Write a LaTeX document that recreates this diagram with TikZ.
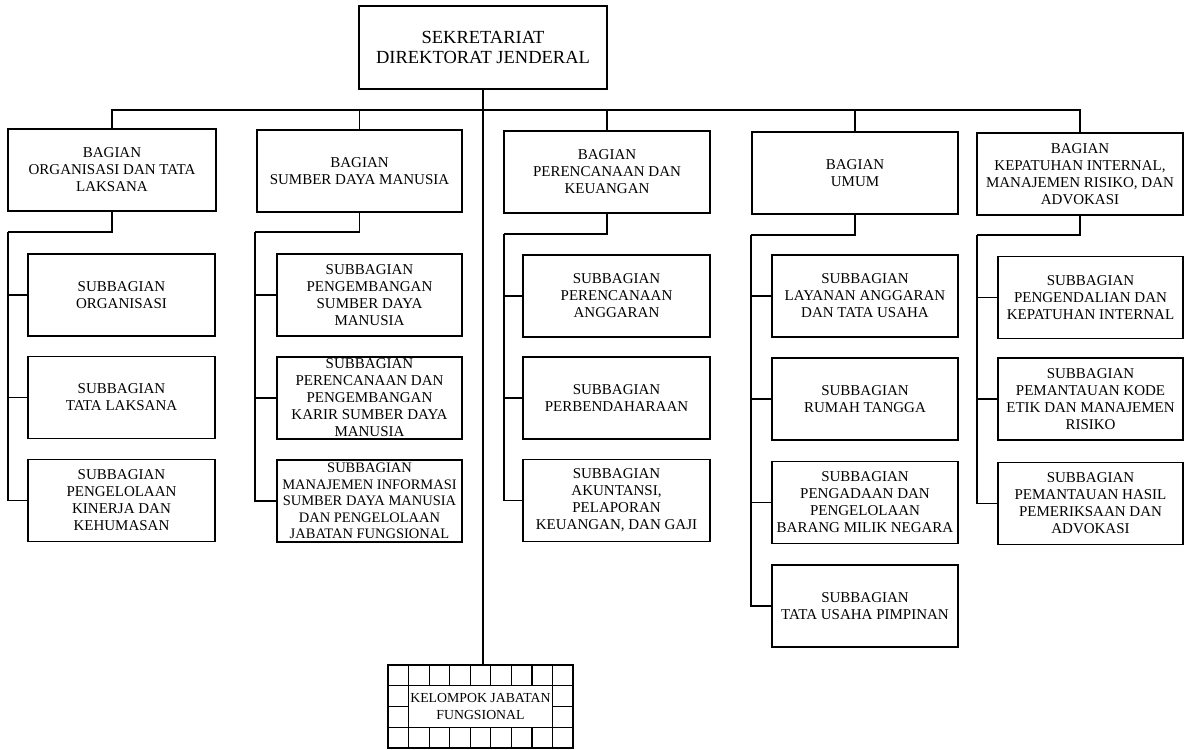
\documentclass[tikz,border=0pt]{standalone}
\usepackage{fontspec}
\setmainfont{Liberation Serif}
\begin{document}
\begin{tikzpicture}[x={(1pt,0)}, y={(0,-1pt)},
  line width=1.2pt,
  orgbox/.style={draw, line width=1.2pt, inner sep=0pt, align=center,
    minimum height=82pt, font=\fontsize{15}{17}\selectfont},
  topbox/.style={orgbox, font=\fontsize{18.5}{20.5}\selectfont},
  jfbox/.style={draw, line width=1.2pt, inner sep=0pt, align=center,
    font=\fontsize{13.8}{17}\selectfont}]
\useasboundingbox (0,0) rectangle (1185,749);

% --- head office ---
\node[topbox, minimum width=248pt, minimum height=83pt] (sek) at (483,47.5)
  {SEKRETARIAT\\DIREKTORAT JENDERAL};

% --- divisions ---
\node[orgbox, minimum width=208pt] (b1) at (112,170)
  {BAGIAN\\ORGANISASI DAN TATA\\LAKSANA};
\node[orgbox, minimum width=205pt] (b2) at (359.5,171)
  {BAGIAN\\SUMBER DAYA MANUSIA};
\node[orgbox, minimum width=206pt] (b3) at (607,172)
  {BAGIAN\\PERENCANAAN DAN\\KEUANGAN};
\node[orgbox, minimum width=206pt] (b4) at (855,173)
  {BAGIAN\\UMUM};
\node[orgbox, minimum width=206pt] (b5) at (1080,174)
  {BAGIAN\\KEPATUHAN INTERNAL,\\MANAJEMEN RISIKO, DAN\\ADVOKASI};

% --- subdivisions, column 1 ---
\node[orgbox, minimum width=187pt] (s11) at (121.5,295)
  {SUBBAGIAN\\ORGANISASI};
\node[orgbox, minimum width=187pt] (s12) at (121.5,397.5)
  {SUBBAGIAN\\TATA LAKSANA};
\node[orgbox, minimum width=187pt] (s13) at (121.5,500.5)
  {SUBBAGIAN\\PENGELOLAAN\\KINERJA DAN\\KEHUMASAN};

% --- subdivisions, column 2 ---
\node[orgbox, minimum width=185pt] (s21) at (369.5,295)
  {SUBBAGIAN\\PENGEMBANGAN\\SUMBER DAYA\\MANUSIA};
\node[orgbox, minimum width=185pt] (s22) at (369.5,398)
  {SUBBAGIAN\\PERENCANAAN DAN\\PENGEMBANGAN\\KARIR SUMBER DAYA\\MANUSIA};
\node[orgbox, minimum width=185pt, font=\fontsize{14.5}{16.5}\selectfont] (s23) at (369.5,501)
  {SUBBAGIAN\\MANAJEMEN INFORMASI\\SUMBER DAYA MANUSIA\\DAN PENGELOLAAN\\JABATAN FUNGSIONAL};

% --- subdivisions, column 3 ---
\node[orgbox, minimum width=187pt] (s31) at (616.5,296)
  {SUBBAGIAN\\PERENCANAAN\\ANGGARAN};
\node[orgbox, minimum width=187pt] (s32) at (616.5,398)
  {SUBBAGIAN\\PERBENDAHARAAN};
\node[orgbox, minimum width=187pt] (s33) at (616.5,500.5)
  {SUBBAGIAN\\AKUNTANSI,\\PELAPORAN\\KEUANGAN, DAN GAJI};

% --- subdivisions, column 4 ---
\node[orgbox, minimum width=186pt] (s41) at (865,296)
  {SUBBAGIAN\\LAYANAN ANGGARAN\\DAN TATA USAHA};
\node[orgbox, minimum width=186pt] (s42) at (865,399)
  {SUBBAGIAN\\RUMAH TANGGA};
\node[orgbox, minimum width=186pt] (s43) at (865,502.5)
  {SUBBAGIAN\\PENGADAAN DAN\\PENGELOLAAN\\BARANG MILIK NEGARA};
\node[orgbox, minimum width=186pt] (s44) at (865,606)
  {SUBBAGIAN\\TATA USAHA PIMPINAN};

% --- subdivisions, column 5 ---
\node[orgbox, minimum width=185pt] (s51) at (1090.5,297.5)
  {SUBBAGIAN\\PENGENDALIAN DAN\\KEPATUHAN INTERNAL};
\node[orgbox, minimum width=185pt] (s52) at (1090.5,399)
  {SUBBAGIAN\\PEMANTAUAN KODE\\ETIK DAN MANAJEMEN\\RISIKO};
\node[orgbox, minimum width=185pt] (s53) at (1090.5,503.5)
  {SUBBAGIAN\\PEMANTAUAN HASIL\\PEMERIKSAAN DAN\\ADVOKASI};

% --- functional group: gridded frame with the label in the middle ---
\node[draw, line width=1.2pt, minimum width=185pt, minimum height=83pt, inner sep=0pt]
  (kjfgrid) at (480.5,706.5) {};
\node[jfbox, minimum width=143.9pt, minimum height=41.5pt] (kjf) at (480.5,706.5)
  {KELOMPOK JABATAN\\FUNGSIONAL};
\foreach \k in {1,...,8} {
  \draw ({388+\k*20.556},665) -- ({388+\k*20.556},685.75);
  \draw ({388+\k*20.556},727.25) -- ({388+\k*20.556},748);
}
\draw (388,685.75) -- (573,685.75);
\draw (388,727.25) -- (573,727.25);
\draw (388,706.5) -- (408.6,706.5);
\draw (552.4,706.5) -- (573,706.5);

% --- main bus ---
\coordinate (bus) at (483,110);
\draw (sek.south) -- (sek.south |- kjfgrid.north);
\draw (b1.north) |- (bus) -| (b5.north);
\foreach \b in {b2,b3,b4} \draw (\b.north) -- (\b.north |- bus);

% --- column spines ---
\coordinate (j1) at (8,232);
\coordinate (j2) at (255,232);
\coordinate (j3) at (504,234);
\coordinate (j4) at (751,235);
\coordinate (j5) at (977,235);
\draw (b1.south) |- (j1);
\draw (b2.south) |- (j2);
\draw (b3.south) |- (j3);
\draw (b4.south) |- (j4);
\draw (b5.south) |- (j5);
\foreach \s in {s11,s12,s13} \draw (j1) |- (\s.west);
\foreach \s in {s21,s22,s23} \draw (j2) |- (\s.west);
\foreach \s in {s31,s32,s33} \draw (j3) |- (\s.west);
\foreach \s in {s41,s42,s43,s44} \draw (j4) |- (\s.west);
\foreach \s in {s51,s52,s53} \draw (j5) |- (\s.west);
\end{tikzpicture}
\end{document}
